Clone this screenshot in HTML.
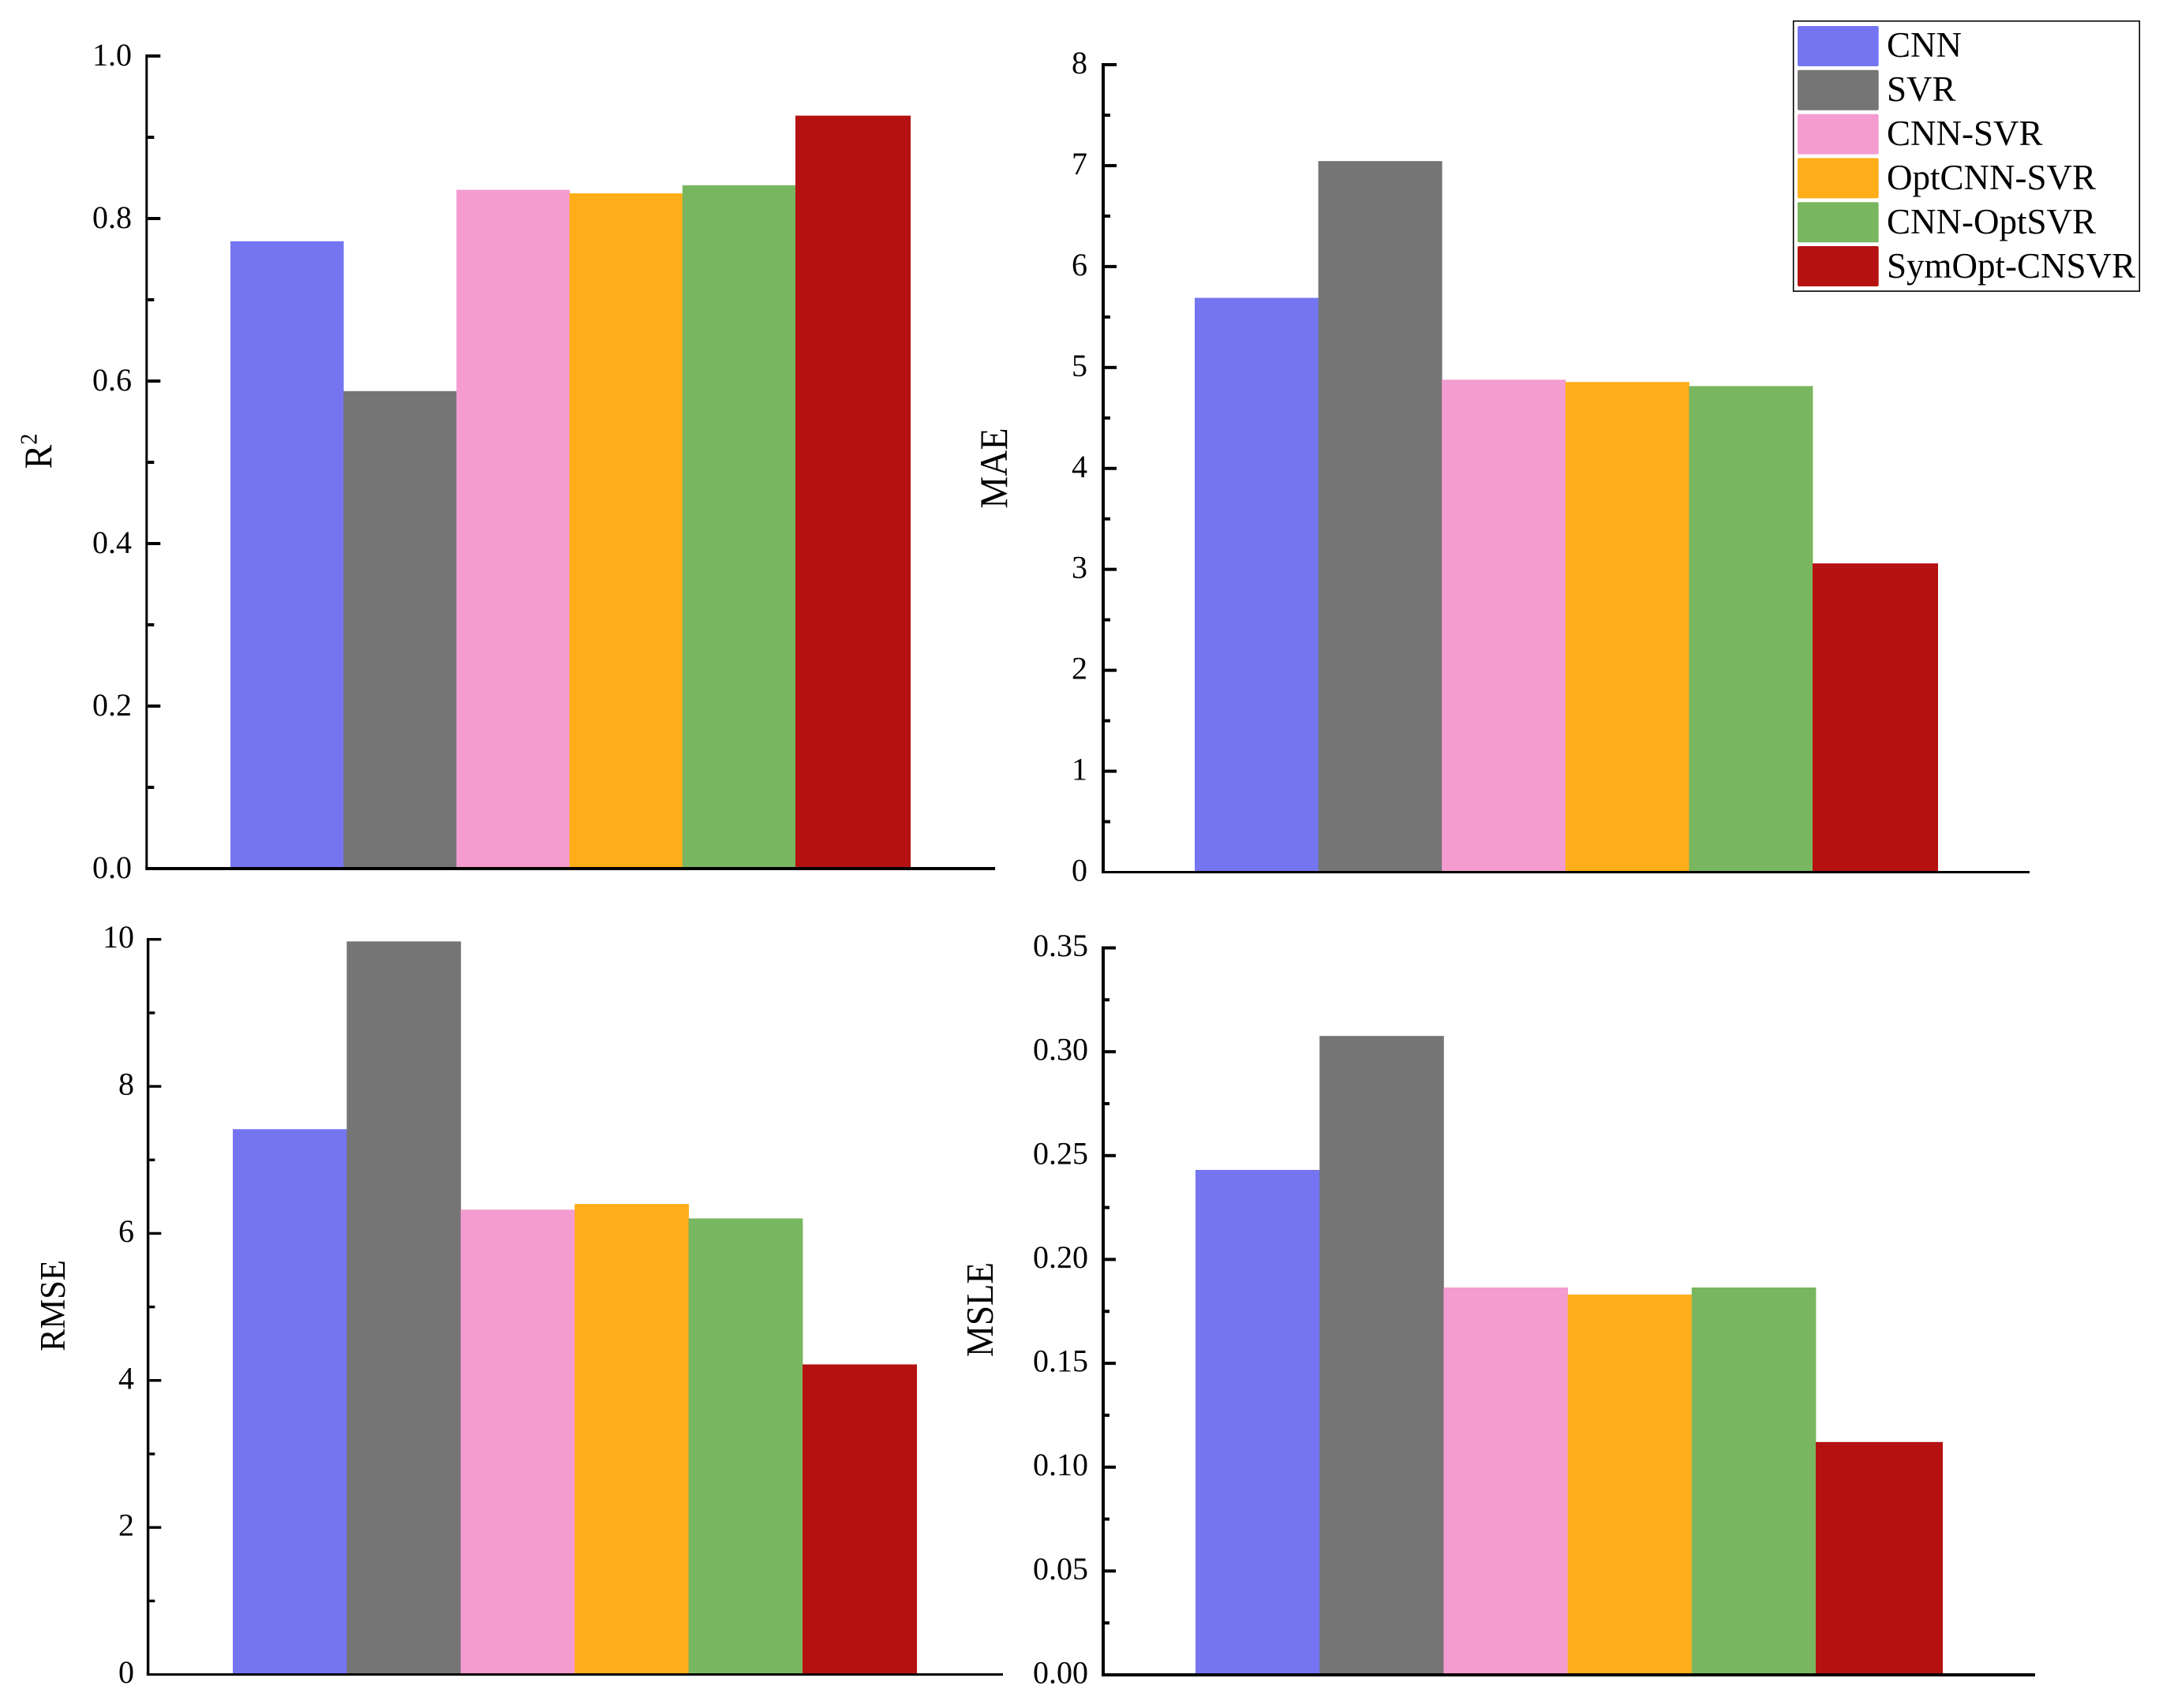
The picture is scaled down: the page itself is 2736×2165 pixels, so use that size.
<!DOCTYPE html>
<html lang="en">
<head>
<meta charset="utf-8">
<title>Model comparison bar charts</title>
<style>
  html, body { margin: 0; padding: 0; background: #fff; }
  svg { display: block; font-family: "Liberation Serif", "Times New Roman", serif; fill: #000; }
</style>
</head>
<body>
<svg id="chart" xmlns="http://www.w3.org/2000/svg" width="2736" height="2165" viewBox="0 0 2736 2165">
  <rect x="0" y="0" width="2736" height="2165" fill="#ffffff"/>
</svg>
<script>
const categories = ["CNN", "SVR", "CNN-SVR", "OptCNN-SVR", "CNN-OptSVR", "SymOpt-CNSVR"];
const seriesColors = ["#7575F2", "#757575", "#F49CD0", "#FFAE1A", "#79B660", "#B61111"];

const r2Values = [0.772, 0.5876, 0.8354, 0.831, 0.841, 0.9266];
const maeValues = [5.69, 7.045, 4.879, 4.856, 4.816, 3.059];
const rmseValues = [7.418, 9.972, 6.323, 6.40, 6.204, 4.218];
const msleValues = [0.2431, 0.3076, 0.1865, 0.1831, 0.1865, 0.1121];

const r2Ticks = ["0.0", "0.2", "0.4", "0.6", "0.8", "1.0"];
const maeTicks = ["0", "1", "2", "3", "4", "5", "6", "7", "8"];
const rmseTicks = ["0", "2", "4", "6", "8", "10"];
const msleTicks = ["0.00", "0.05", "0.10", "0.15", "0.20", "0.25", "0.30", "0.35"];

const NS = "http://www.w3.org/2000/svg";
const svg = document.getElementById("chart");

function drawPanel(key, values, ticks, box) {
  const group = document.createElementNS(NS, "g");
  
  
  svg.appendChild(group);

  const yMin = Number(ticks[0]);
  const yMax = Number(ticks[ticks.length - 1]);
  const yScale = v => box.yBase + (v - yMin) / (yMax - yMin) * (box.yTop - box.yBase);
  const step = box.barStep;
  const xScale = i => box.barStart + i * step;

  values.forEach((value, i) => {
    const bar = document.createElementNS(NS, "rect");
    
    
    bar.setAttribute("x", xScale(i));
    bar.setAttribute("y", yScale(value));
    bar.setAttribute("width", i === values.length - 1 ? box.barEnd - xScale(i) : step + 0.4);
    bar.setAttribute("height", box.yBase - yScale(value));
    bar.setAttribute("fill", seriesColors[i]);
    group.appendChild(bar);
  });

  const yAxis = document.createElementNS(NS, "rect");
  
  
  yAxis.setAttribute("x", box.axisX - box.axisW / 2);
  yAxis.setAttribute("y", box.yTop - box.tickW / 2);
  yAxis.setAttribute("width", box.axisW);
  yAxis.setAttribute("height", box.yBase - box.yTop + box.tickW / 2 + box.baseW / 2);
  group.appendChild(yAxis);

  const xAxis = document.createElementNS(NS, "rect");
  
  
  xAxis.setAttribute("x", box.axisX - box.axisW / 2);
  xAxis.setAttribute("y", box.yBase - box.baseW / 2);
  xAxis.setAttribute("width", box.xEnd - box.axisX + box.axisW / 2);
  xAxis.setAttribute("height", box.baseW);
  group.appendChild(xAxis);

  const tickStart = box.axisX + box.axisW / 2;
  ticks.forEach((label, i) => {
    const y = yScale(Number(label));
    if (i > 0) {
      const major = document.createElementNS(NS, "rect");
      
      
      major.setAttribute("x", tickStart);
      major.setAttribute("y", y - box.tickW / 2);
      major.setAttribute("width", box.majorLen);
      major.setAttribute("height", box.tickW);
      group.appendChild(major);

      const minor = document.createElementNS(NS, "rect");
      
      
      minor.setAttribute("x", tickStart);
      minor.setAttribute("y", yScale((Number(label) + Number(ticks[i - 1])) / 2) - box.tickW / 2);
      minor.setAttribute("width", box.minorLen);
      minor.setAttribute("height", box.tickW);
      group.appendChild(minor);
    }
    const text = document.createElementNS(NS, "text");
    
    
    text.setAttribute("x", box.labelX);
    text.setAttribute("y", y + box.labelDy);
    text.setAttribute("text-anchor", "end");
    text.setAttribute("font-size", "40");
    text.textContent = label;
    group.appendChild(text);
  });

  const title = document.createElementNS(NS, "text");
  
  
  title.setAttribute("text-anchor", "middle");
  title.setAttribute("font-size", box.titleSize);
  title.setAttribute("transform", "translate(" + box.titleX + " " + box.titleY + ") rotate(-90) scale(1 1.08)");
  title.textContent = box.title;
  if (box.titleSup) {
    const sup = document.createElementNS(NS, "tspan");
    
    
    sup.setAttribute("font-size", "28");
    sup.setAttribute("dy", "-17");
    sup.textContent = box.titleSup;
    title.appendChild(sup);
  }
  group.appendChild(title);
}

drawPanel("r2", r2Values, r2Ticks, {
  axisX: 185.8, axisW: 3, yTop: 71, yBase: 1101, baseW: 4, tickW: 4, xEnd: 1261,
  majorLen: 16, minorLen: 8, barStart: 292, barStep: 143.2, barEnd: 1154, labelX: 167, labelDy: 12,
  title: "R", titleSup: "2", titleSize: 46, titleX: 65, titleY: 572
});
drawPanel("mae", maeValues, maeTicks, {
  axisX: 1398, axisW: 4, yTop: 82, yBase: 1105.5, baseW: 3, tickW: 4, xEnd: 2572,
  majorLen: 15, minorLen: 7, barStart: 1514, barStep: 156.6, barEnd: 2456, labelX: 1378, labelDy: 11,
  title: "MAE", titleSup: "", titleSize: 46, titleX: 1276, titleY: 593.5
});
drawPanel("rmse", rmseValues, rmseTicks, {
  axisX: 187.6, axisW: 3.4, yTop: 1190.7, yBase: 2122.5, baseW: 3, tickW: 3.4, xEnd: 1271,
  majorLen: 15, minorLen: 7, barStart: 295, barStep: 144.4, barEnd: 1162, labelX: 170, labelDy: 10.5,
  title: "RMSE", titleSup: "", titleSize: 42.5, titleX: 82, titleY: 1655
});
drawPanel("msle", msleValues, msleTicks, {
  axisX: 1398, axisW: 4, yTop: 1201.5, yBase: 2123, baseW: 4, tickW: 4, xEnd: 2579,
  majorLen: 14, minorLen: 6, barStart: 1515, barStep: 157.2, barEnd: 2462, labelX: 1379, labelDy: 10.5,
  title: "MSLE", titleSup: "", titleSize: 45, titleX: 1258, titleY: 1660
});

const legend = document.createElementNS(NS, "g");


svg.appendChild(legend);

const legendBox = document.createElementNS(NS, "rect");


legendBox.setAttribute("x", 2272.7);
legendBox.setAttribute("y", 26.7);
legendBox.setAttribute("width", 438.6);
legendBox.setAttribute("height", 342.4);
legendBox.setAttribute("fill", "#ffffff");
legendBox.setAttribute("stroke", "#000000");
legendBox.setAttribute("stroke-width", "1.6");
legend.appendChild(legendBox);

categories.forEach((name, i) => {
  const swatch = document.createElementNS(NS, "rect");
  
  
  swatch.setAttribute("x", 2278);
  swatch.setAttribute("y", 33 + i * 55.8);
  swatch.setAttribute("width", 102.7);
  swatch.setAttribute("height", 51);
  swatch.setAttribute("rx", 2);
  swatch.setAttribute("fill", seriesColors[i]);
  legend.appendChild(swatch);

  const label = document.createElementNS(NS, "text");
  
  
  label.setAttribute("x", 2391);
  label.setAttribute("y", 72 + i * 56);
  label.setAttribute("font-size", "45");
  label.textContent = name;
  legend.appendChild(label);
});
</script>
</body>
</html>
